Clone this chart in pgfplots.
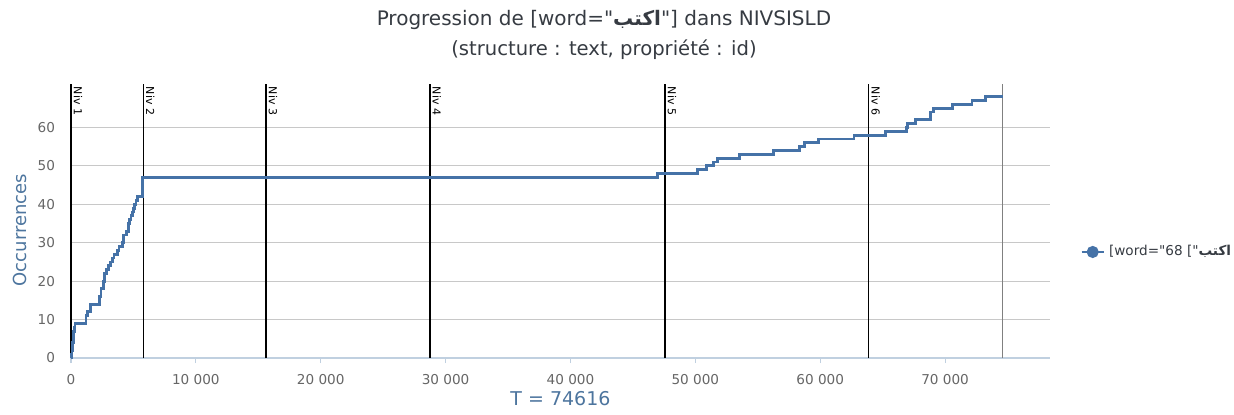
\documentclass[border=0pt]{standalone}
\usepackage{fontspec}
\setmainfont{DejaVu Sans}[Ligatures=TeXOff]
\newfontfamily\arabicfont[Script=Arabic, Ligatures=TeXOff]{DejaVu Sans}
\TeXXeTstate=1
\usepackage{pgfplots}
\pgfplotsset{compat=1.18}
\definecolor{serie}{HTML}{4572A7}
\definecolor{axtitle}{HTML}{4D759E}
\definecolor{ticktext}{HTML}{666666}
\definecolor{gridgray}{HTML}{C8C8C8}
\definecolor{axisline}{HTML}{C0D0E0}
\definecolor{titletext}{HTML}{363B42}
\newcommand{\ar}{{\arabicfont\bfseries\beginR اكتب\endR}}

\begin{document}
\begin{tikzpicture}
\useasboundingbox (-35.5pt,-28pt) rectangle (581.5pt,179pt);
\begin{axis}[
    at={(0,0)}, anchor=south west,
    scale only axis,
    width=489.5pt, height=137pt,
    xmin=0, xmax=78400,
    ymin=0, ymax=71.3,
    axis x line*=bottom, axis y line*=left,
    y axis line style={draw=none},
    x axis line style={draw=axisline, line width=0.6pt},
    xtick={0,10000,...,70000},
    ytick={0,10,...,60},
    scaled x ticks=false,
    /pgf/number format/.cd, 1000 sep={\ }, assume math mode=true, /pgfplots/.cd,
    tick align=outside,
    x tick style={draw=axisline, line width=0.6pt},
    y tick style={draw=none},
    major tick length=2.5pt,
    ymajorgrids,
    grid style={draw=gridgray, line width=0.55pt},
    ticklabel style={font=\fontsize{6.8}{8}\selectfont, text=ticktext},
    xticklabel style={yshift=-2pt},
    yticklabel style={xshift=-2pt},
    xlabel={T = 74616},
    ylabel={Occurrences},
    every axis x label/.style={at={(rel axis cs:0.5,0)}, anchor=center, yshift=-20.5pt,
        font=\fontsize{9.5}{11}\selectfont, text=axtitle},
    every axis y label/.style={at={(rel axis cs:0,0.467)}, xshift=-25.5pt, anchor=center, rotate=90,
        font=\fontsize{9}{11}\selectfont, text=axtitle},
    legend style={at={(rel axis cs:1,0.387)}, anchor=west, xshift=12pt, draw=none, fill=none,
        font=\fontsize{6.8}{8}\selectfont, text=titletext},
    legend image code/.code={\draw[serie, line width=1.3pt] (0pt,0pt) -- (11pt,0pt);
        \fill[serie] (5.5pt,0pt) circle (2.3pt);},
    clip=false,
]
% Niv markers
\addplot[black, line width=0.7pt, forget plot] coordinates {(0,0) (0,71.3)};
\addplot[black, line width=0.7pt, forget plot] coordinates {(5790,0) (5790,71.3)};
\addplot[black, line width=0.7pt, forget plot] coordinates {(15610,0) (15610,71.3)};
\addplot[black, line width=0.7pt, forget plot] coordinates {(28740,0) (28740,71.3)};
\addplot[black, line width=0.7pt, forget plot] coordinates {(47560,0) (47560,71.3)};
\addplot[black, line width=0.7pt, forget plot] coordinates {(63870,0) (63870,71.3)};
\addplot[gray, line width=0.5pt, forget plot] coordinates {(74616,0) (74616,71.3)};

\addplot[serie, line width=1.4pt, const plot] coordinates {
(0,0) (40,1) (80,2) (110,3) (140,4) (170,5) (200,6) (230,7) (260,8) (320,9)
(1200,11) (1300,12) (1550,14)
(2300,16) (2400,18) (2600,20) (2700,22) (2850,23) (3000,24) (3150,25) (3300,26)
(3450,27) (3700,28) (3850,29) (4100,30) (4200,32) (4450,33) (4600,35) (4700,36)
(4800,37) (4900,38) (5000,39) (5100,40) (5200,41) (5350,42) (5700,45) (5720,47)
(46940,48) (50150,49) (50890,50) (51480,51) (51750,52) (53560,53) (56230,54)
(58310,55) (58740,56) (59830,57) (62710,58) (65230,59) (66910,60) (67000,61)
(67650,62) (68830,64) (69040,65) (70590,66) (72160,67) (73260,68) (74616,68)
};
\addlegendentry{[word="68 ["\ar}

\foreach \x/\n in {0/1,5790/2,15610/3,28740/4,47560/5,63870/6}{
  \edef\temp{\noexpand\node[rotate=-90, anchor=south west, inner sep=1.2pt,
    font=\noexpand\fontsize{5.5}{6}\noexpand\selectfont] at (axis cs:\x,71.3) {Niv \n};}
  \temp
}

\node[font=\fontsize{10}{11}\selectfont, text=titletext] at (rel axis cs:0.5444,1) [yshift=32pt]
  {Progression de [word="\ar"] dans NIVSISLD};
\node[font=\fontsize{9.8}{11}\selectfont, text=titletext] at (rel axis cs:0.5444,1) [yshift=17pt]
  {(structure : text, propriété : id)};
\end{axis}
\end{tikzpicture}
\end{document}
